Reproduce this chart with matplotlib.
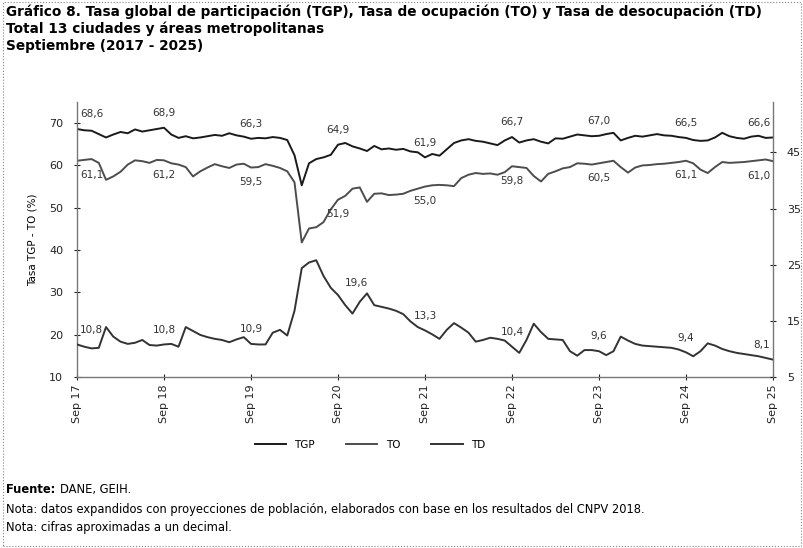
import matplotlib.pyplot as plt
from matplotlib.patches import Rectangle

# Meses de septiembre 2017 a septiembre 2025 (serie mensual)
years = ['17', '18', '19', '20', '21', '22', '23', '24', '25']
tick_labels = ['Sep ' + y for y in years]

tgp = [68.6, 68.3, 68.2, 67.4, 66.6, 67.3, 67.9, 67.6, 68.5, 68.0, 68.3, 68.6,
       68.9, 67.3, 66.5, 66.9, 66.4, 66.6, 66.9, 67.2, 67.0, 67.6, 67.1, 66.8,
       66.3, 66.5, 66.4, 66.7, 66.5, 66.0, 62.4, 55.3, 60.5, 61.5, 61.9, 62.5,
       64.9, 65.3, 64.5, 64.0, 63.4, 64.6, 63.8, 64.0, 63.7, 63.9, 63.3, 63.1,
       61.9, 62.7, 62.3, 63.8, 65.3, 65.9, 66.2, 65.8, 65.6, 65.2, 64.8, 65.9,
       66.7, 65.4, 65.9, 66.2, 65.6, 65.2, 66.4, 66.3, 66.8, 67.3, 67.1, 66.9,
       67.0, 67.4, 67.7, 65.9, 66.5, 67.0, 66.8, 67.1, 67.4, 67.1, 67.0, 66.7,
       66.5, 66.0, 65.8, 65.9, 66.6, 67.7, 66.9, 66.5, 66.3, 66.8, 67.0, 66.5,
       66.6]

to = [61.1, 61.3, 61.5, 60.6, 56.6, 57.4, 58.5, 60.2, 61.2, 61.0, 60.6, 61.3,
      61.2, 60.5, 60.2, 59.6, 57.4, 58.6, 59.5, 60.3, 59.8, 59.4, 60.2, 60.4,
      59.5, 59.6, 60.3, 59.9, 59.4, 58.6, 56.0, 41.8, 45.1, 45.4, 46.6, 49.6,
      51.9, 52.8, 54.5, 54.8, 51.4, 53.3, 53.4, 53.0, 53.1, 53.3, 54.0, 54.5,
      55.0, 55.3, 55.4, 55.3, 55.1, 57.0, 57.8, 58.2, 58.0, 58.1, 57.8, 58.4,
      59.8, 59.6, 59.4, 57.5, 56.2, 58.0, 58.6, 59.3, 59.6, 60.5, 60.4, 60.2,
      60.5, 60.8, 61.1, 59.6, 58.3, 59.5, 60.0, 60.1, 60.3, 60.4, 60.6, 60.8,
      61.1, 60.5, 59.0, 58.2, 59.6, 60.8, 60.6, 60.7, 60.8, 61.0, 61.2, 61.4,
      61.0]

td = [10.8, 10.4, 10.1, 10.2, 13.9, 12.2, 11.3, 10.9, 11.1, 11.6, 10.7, 10.6,
      10.8, 10.9, 10.4, 13.9, 13.2, 12.5, 12.1, 11.8, 11.6, 11.2, 11.7, 12.1,
      10.9, 10.8, 10.8, 12.9, 13.4, 12.4, 16.8, 24.4, 25.4, 25.8, 23.0, 20.9,
      19.6, 17.8, 16.3, 18.4, 19.9, 17.8, 17.5, 17.2, 16.8, 16.2, 14.9, 13.9,
      13.3, 12.6, 11.8, 13.4, 14.6, 13.8, 12.9, 11.3, 11.6, 12.0, 11.8, 11.5,
      10.4, 9.3, 11.6, 14.5, 13.0, 11.8, 11.7, 11.6, 9.6, 8.8, 9.8, 9.8,
      9.6, 8.9, 9.6, 12.2, 11.5, 10.9, 10.6, 10.5, 10.4, 10.3, 10.2, 9.9,
      9.4, 8.7, 9.6, 11.0, 10.6, 10.0, 9.6, 9.3, 9.1, 8.9, 8.7, 8.4,
      8.1]

x = list(range(len(tgp)))
sep_idx = list(range(0, len(tgp), 12))

plt.rcParams['font.family'] = ['DejaVu Sans']
fig = plt.figure(figsize=(8.04, 5.48), dpi=100)
ax1 = fig.add_axes([0.0958, 0.312, 0.8656, 0.502])
ax2 = ax1.twinx()

c_tgp, c_to, c_td = '#1a1a1a', '#4d4d4d', '#333333'
l1, = ax1.plot(x, tgp, color=c_tgp, lw=1.4, label='TGP')
l2, = ax1.plot(x, to, color=c_to, lw=1.4, label='TO')
l3, = ax2.plot(x, td, color=c_td, lw=1.4, label='TD')

ax1.set_xlim(0, 96)
ax1.set_ylim(10, 75)
ax1.set_yticks([10, 20, 30, 40, 50, 60, 70])
ax2.set_ylim(5, 54)
ax2.set_yticks([5, 15, 25, 35, 45])
ax1.set_xticks(sep_idx)
ax1.set_xticklabels(tick_labels, rotation=90)
ax1.set_ylabel('Tasa TGP - TO (%)', fontsize=7.5, labelpad=8)

for ax in (ax1, ax2):
    ax.spines['top'].set_visible(False)
    for side in ('left', 'right', 'bottom'):
        ax.spines[side].set_color('#777777')
        ax.spines[side].set_linewidth(1.0)
    ax.tick_params(labelsize=8, colors='#222222', direction='inout', length=4, width=0.8)
ax1.tick_params(axis='y', pad=8)
ax2.tick_params(axis='y', pad=8)
ax1.spines['right'].set_visible(False)
ax2.spines['left'].set_visible(False)
ax2.spines['bottom'].set_visible(False)


def fmt(v):
    return f'{v:.1f}'.replace('.', ',')


# etiquetas de septiembre de cada año
for k, i in enumerate(sep_idx):
    ha = 'center'
    dx = 0
    if k == 0:
        ha, dx = 'left', 2
    elif k == len(sep_idx) - 1:
        ha, dx = 'right', -2
    ax1.annotate(fmt(tgp[i]), (i, tgp[i]), xytext=(dx, 7), textcoords='offset points',
                 ha=ha, va='bottom', fontsize=7.5, color='#333333')
    ax1.annotate(fmt(to[i]), (i, to[i]), xytext=(dx, -7), textcoords='offset points',
                 ha=ha, va='top', fontsize=7.5, color='#333333')
    if k == 3:
        ax2.annotate(fmt(td[i]), (i, td[i]), xytext=(5, 5), textcoords='offset points',
                     ha='left', va='bottom', fontsize=7.5, color='#333333')
    else:
        ax2.annotate(fmt(td[i]), (i, td[i]), xytext=(dx, 7), textcoords='offset points',
                     ha=ha, va='bottom', fontsize=7.5, color='#333333')

fig.legend([l1, l2, l3], ['TGP', 'TO', 'TD'], loc='center', bbox_to_anchor=(0.46, 0.188),
           ncol=3, frameon=False, fontsize=7.5, handlelength=3, columnspacing=3)

fig.text(0.008, 0.992, 'Gráfico 8. Tasa global de participación (TGP), Tasa de ocupación (TO) '
         'y Tasa de desocupación (TD)', fontsize=9.8, fontweight='bold', va='top')
fig.text(0.008, 0.960, 'Total 13 ciudades y áreas metropolitanas', fontsize=9.8,
         fontweight='bold', va='top')
fig.text(0.008, 0.928, 'Septiembre (2017 - 2025)', fontsize=9.8, fontweight='bold', va='top')

src = fig.text(0.008, 0.106, 'Fuente:', fontsize=8.3, fontweight='bold', va='center')
ax1.annotate('DANE, GEIH.', xy=(1, 0.5), xycoords=src, xytext=(3, 0),
             textcoords='offset points', ha='left', va='center', fontsize=8.3,
             annotation_clip=False)
fig.text(0.008, 0.070, 'Nota: datos expandidos con proyecciones de población, elaborados con base '
         'en los resultados del CNPV 2018.', fontsize=8.3, va='center')
fig.text(0.008, 0.037, 'Nota: cifras aproximadas a un decimal.', fontsize=8.3, va='center')

fig.patches.append(Rectangle((0.004, 0.004), 0.992, 0.992, transform=fig.transFigure,
                             fill=False, ls=':', lw=0.8, ec='#888888'))

plt.savefig('out.png', dpi=100)
